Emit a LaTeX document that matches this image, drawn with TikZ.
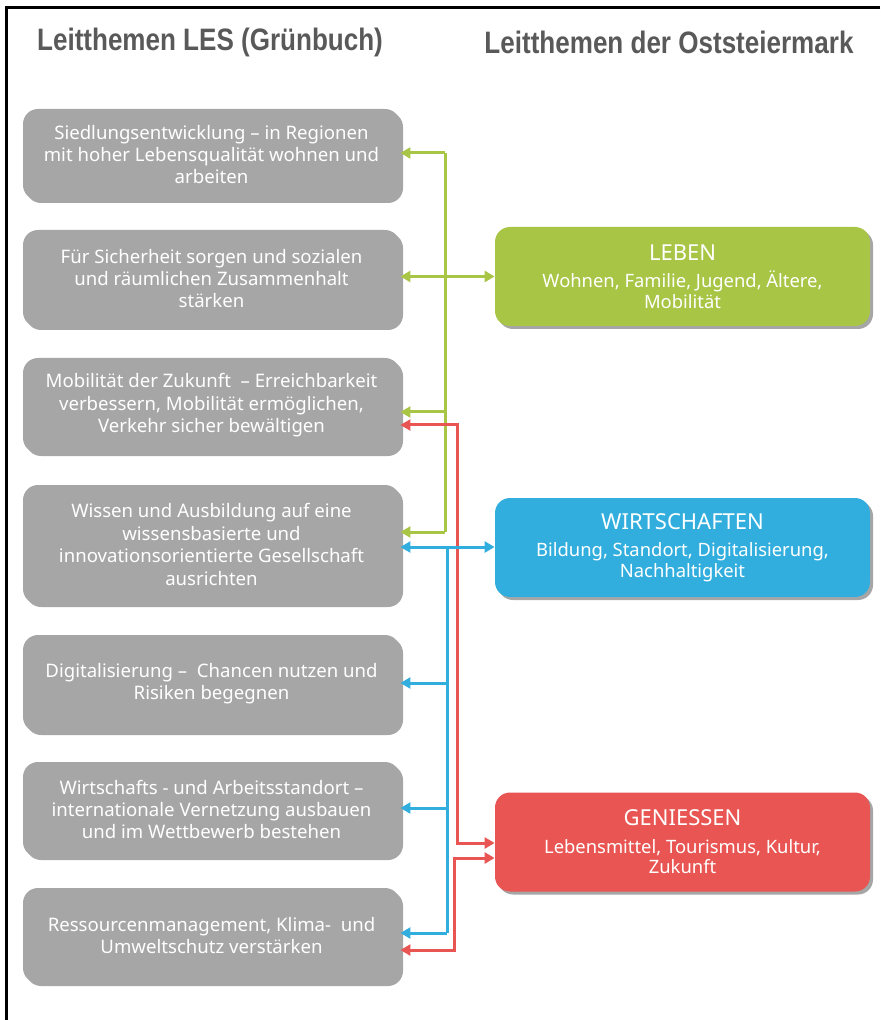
\documentclass[tikz,border=0pt]{standalone}
\usepackage{fontspec}
\setmainfont{Noto Sans}
\newfontfamily\titlefont[FakeStretch=0.84]{Liberation Sans}
\usetikzlibrary{arrows.meta,shadows}
\definecolor{boxgray}{HTML}{A6A6A6}
\definecolor{lebengreen}{HTML}{A8C545}
\definecolor{wirtblue}{HTML}{31AEDD}
\definecolor{geniessred}{HTML}{E85552}
\definecolor{titlegray}{HTML}{595959}

\begin{document}
\begin{tikzpicture}[x=.5pt,y=-.5pt,
    themebox/.style={rounded corners=7.5pt,minimum width=188.5pt,align=center,
      text=white,font=\fontsize{9.3}{11.2}\selectfont,
      drop shadow={shadow xshift=1.5pt,shadow yshift=-1.5pt,opacity=.35,fill=black}},
    regionbox/.style={themebox,minimum width=187.5pt,minimum height=49.5pt,
      font=\fontsize{9.2}{10.2}\selectfont},
    heading/.style={text=titlegray,font=\titlefont\bfseries\fontsize{15.5}{17}\selectfont},
    conn/.style={line width=1.5pt,
      arrows={-},>={Triangle[length=5pt,width=5.5pt]}}]
  \useasboundingbox (0,0) rectangle (880,1020);
  \draw[line width=1.5pt] (880,8) -- (6,8) -- (6,1020);

  \node[heading] (hleft) at (210,42) {Leitthemen LES (Grünbuch)};
  \node[heading] (hright) at (669,42) {Leitthemen der Oststeiermark};

  \node[themebox,fill=boxgray,minimum height=45.5pt] (b1) at (211.5,154.5)
    {Siedlungsentwicklung – in Regionen\\mit hoher Lebensqualität wohnen und\\arbeiten};
  \node[themebox,fill=boxgray,minimum height=48.5pt] (b2) at (211.5,278.5)
    {Für Sicherheit sorgen und sozialen\\und räumlichen Zusammenhalt\\stärken};
  \node[themebox,fill=boxgray,minimum height=47.5pt] (b3) at (211.5,405.5)
    {Mobilität der Zukunft\ \ – Erreichbarkeit\\verbessern, Mobilität ermöglichen,\\Verkehr sicher bewältigen};
  \node[themebox,fill=boxgray,minimum height=59.5pt] (b4) at (211.5,544.5)
    {Wissen und Ausbildung auf eine\\wissensbasierte und\\innovationsorientierte Gesellschaft\\ausrichten};
  \node[themebox,fill=boxgray,minimum height=48.5pt] (b5) at (211.5,683.5)
    {Digitalisierung –\ \ Chancen nutzen und\\Risiken begegnen};
  \node[themebox,fill=boxgray,minimum height=47.5pt] (b6) at (211.5,809.5)
    {Wirtschafts - und Arbeitsstandort –\\internationale Vernetzung ausbauen\\und im Wettbewerb bestehen};
  \node[themebox,fill=boxgray,minimum height=47.5pt] (b7) at (211.5,935.5)
    {Ressourcenmanagement, Klima-\ \ und\\Umweltschutz verstärken};

  \node[regionbox,fill=lebengreen] (leben) at (682.5,276.5)
    {{\fontsize{11}{15}\selectfont LEBEN}\\[3.5pt]Wohnen, Familie, Jugend, Ältere,\\Mobilität};
  \node[regionbox,fill=wirtblue] (wirt) at (682.5,547.5)
    {{\fontsize{11}{15}\selectfont WIRTSCHAFTEN}\\[3.5pt]Bildung, Standort, Digitalisierung,\\Nachhaltigkeit};
  \node[regionbox,fill=geniessred] (geniess) at (682.5,842)
    {{\fontsize{11}{15}\selectfont GENIESSEN}\\[3.5pt]Lebensmittel, Tourismus, Kultur,\\Zukunft};

  \coordinate (g1) at (445,153);
  \coordinate (g3) at (445,412);
  \coordinate (g4) at (445,532);
  \coordinate (w4) at (447,547);
  \coordinate (w5) at (447,683);
  \coordinate (w6) at (447,808);
  \coordinate (w7) at (447,933);
  \coordinate (r3) at (457,425);
  \coordinate (rg) at (457,843);
  \coordinate (r7) at (454,950);
  \coordinate (rh) at (454,858);

  \draw[conn,lebengreen] (g1) -- (g4);
  \draw[conn,lebengreen,->] (g1) -- (g1 -| b1.east);
  \draw[conn,lebengreen,<->] (b2.east |- leben.west) -- (leben.west);
  \draw[conn,lebengreen,->] (g3) -- (g3 -| b3.east);
  \draw[conn,lebengreen,->] (g4) -- (g4 -| b4.east);

  \draw[conn,geniessred,<->] (r3 -| b3.east) -- (r3) -- (rg) -- (rg -| geniess.west);
  \draw[conn,geniessred,<->] (r7 -| b7.east) -- (r7) -- (rh) -- (rh -| geniess.west);

  \draw[conn,wirtblue] (w4) -- (w7);
  \draw[conn,wirtblue,<->] (w4 -| b4.east) -- (w4 -| wirt.west);
  \draw[conn,wirtblue,->] (w5) -- (w5 -| b5.east);
  \draw[conn,wirtblue,->] (w6) -- (w6 -| b6.east);
  \draw[conn,wirtblue,->] (w7) -- (w7 -| b7.east);
\end{tikzpicture}
\end{document}
